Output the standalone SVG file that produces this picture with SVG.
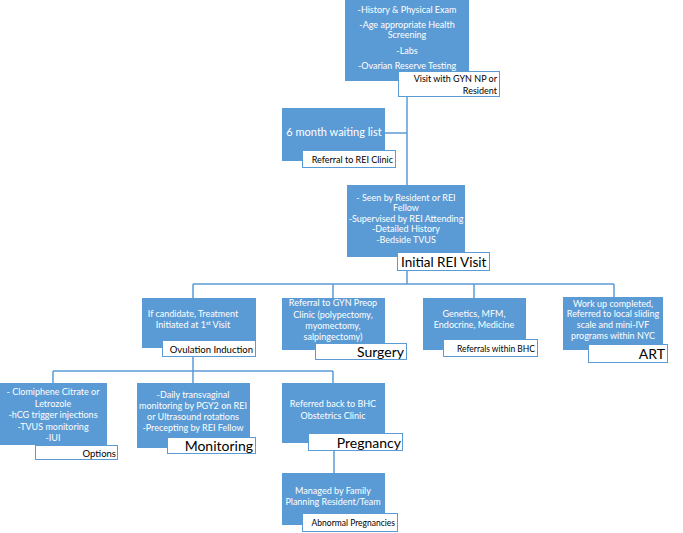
<svg xmlns="http://www.w3.org/2000/svg" width="683" height="533" viewBox="0 0 683 533">
<style>
.b{fill:#5b9bd5;}
.l{fill:#ffffff;stroke:#5b9bd5;stroke-width:1;}
.c{fill:none;stroke:#5b9bd5;stroke-width:1.5;}
.t{font-family:Lato,"Open Sans",sans-serif;font-size:9px;fill:#ffffff;text-anchor:middle;}
.k{font-family:Lato,"Open Sans",sans-serif;font-size:9px;fill:#000000;text-anchor:end;}
.big{font-family:Lato,"Open Sans",sans-serif;font-size:14px;fill:#000000;text-anchor:end;}
</style>
<rect width="683" height="533" fill="#ffffff"/>
<g id="connectors">
<path class="c" d="M407,97 V185 M385,133 H407"/>
<path class="c" d="M407,271 V284 M193,284 H614 M193,284 V298 M333,284 V298 M474,284 V298 M614,284 V297"/>
<path class="c" d="M193,356 V371 M53,371 H333 M53,371 V383 M193,371 V383 M333,371 V383"/>
<path class="c" d="M334,450 V473"/>
</g>
<g id="visit-gyn">
<rect class="b" x="345" y="0" width="124" height="81"/>
<text class="t" x="407" y="12.5">-History &amp; Physical Exam</text>
<text class="t" x="407" y="27.5">-Age appropriate Health</text>
<text class="t" x="407" y="37.5">Screening</text>
<text class="t" x="407" y="53.5">-Labs</text>
<text class="t" x="407" y="68.5">-Ovarian Reserve Testing</text>
<rect class="l" x="398.5" y="71.5" width="101" height="25"/>
<text class="k" x="497" y="82">Visit with GYN NP or</text>
<text class="k" x="497" y="94">Resident</text>
</g>
<g id="referral-rei">
<rect class="b" x="282" y="108" width="103" height="53"/>
<text class="t" x="334" y="135.5" style="font-size:11px">6 month waiting list</text>
<rect class="l" x="302.5" y="150.5" width="93" height="17"/>
<text class="k" x="393" y="162.5">Referral to REI Clinic</text>
</g>
<g id="initial-rei">
<rect class="b" x="347" y="185" width="118" height="72"/>
<text class="t" x="406" y="201">- Seen by Resident or REI</text>
<text class="t" x="406" y="211">Fellow</text>
<text class="t" x="406" y="222">-Supervised by REI Attending</text>
<text class="t" x="406" y="232">-Detailed History</text>
<text class="t" x="406" y="243">-Bedside TVUS</text>
<rect class="l" x="397.5" y="252.5" width="92" height="18"/>
<text class="big" x="401" y="266.5" style="font-size:13.5px;text-anchor:start">Initial REI Visit</text>
</g>
<g id="ovulation">
<rect class="b" x="142" y="298" width="114" height="50"/>
<text class="t" x="193" y="317">If candidate, Treatment</text>
<text class="t" x="193" y="328">Initiated at 1<tspan dy="-3" style="font-size:6px">st</tspan><tspan dy="3"> Visit</tspan></text>
<rect class="l" x="162.5" y="340.5" width="93" height="16"/>
<text class="k" x="253" y="352.5" style="font-size:9.5px">Ovulation Induction</text>
</g>
<g id="surgery">
<rect class="b" x="282" y="298" width="103" height="52"/>
<text class="t" x="333" y="306">Referral to GYN Preop</text>
<text class="t" x="333" y="318">Clinic (polypectomy,</text>
<text class="t" x="333" y="329">myomectomy,</text>
<text class="t" x="333" y="340">salpingectomy)</text>
<rect class="l" x="315.5" y="343.5" width="91" height="16"/>
<text class="big" x="404" y="357">Surgery</text>
</g>
<g id="referrals-bhc">
<rect class="b" x="423" y="298" width="103" height="52"/>
<text class="t" x="474" y="317">Genetics, MFM,</text>
<text class="t" x="474" y="328">Endocrine, Medicine</text>
<rect class="l" x="443.5" y="339.5" width="94" height="17"/>
<text class="k" x="535" y="351.5" style="font-size:8.5px">Referrals within BHC</text>
</g>
<g id="art">
<rect class="b" x="563" y="297" width="100" height="53"/>
<text class="t" x="613" y="307">Work up completed,</text>
<text class="t" x="613" y="317">Referred to local sliding</text>
<text class="t" x="613" y="328">scale and mini-IVF</text>
<text class="t" x="613" y="339">programs within NYC</text>
<rect class="l" x="588.5" y="344.5" width="79" height="18"/>
<text class="big" x="665" y="359">ART</text>
</g>
<g id="options">
<rect class="b" x="0" y="383" width="107" height="62"/>
<text class="t" x="53" y="395">- Clomiphene Citrate or</text>
<text class="t" x="53" y="407">Letrozole</text>
<text class="t" x="53" y="418">-hCG trigger injections</text>
<text class="t" x="53" y="430">-TVUS monitoring</text>
<text class="t" x="53" y="441">-IUI</text>
<rect class="l" x="35.5" y="445.5" width="82" height="14"/>
<text class="k" x="116" y="456.5" style="font-size:9.5px">Options</text>
</g>
<g id="monitoring">
<rect class="b" x="137" y="383" width="113" height="65"/>
<text class="t" x="193" y="398">-Daily transvaginal</text>
<text class="t" x="193" y="409">monitoring by PGY2 on REI</text>
<text class="t" x="193" y="420">or Ultrasound rotations</text>
<text class="t" x="193" y="431">-Precepting by REI Fellow</text>
<rect class="l" x="167.5" y="437.5" width="88" height="16"/>
<text class="big" x="253" y="451">Monitoring</text>
</g>
<g id="pregnancy">
<rect class="b" x="282" y="383" width="103" height="60"/>
<text class="t" x="333" y="407">Referred back to BHC</text>
<text class="t" x="333" y="419">Obstetrics Clinic</text>
<rect class="l" x="308.5" y="433.5" width="94" height="17"/>
<text class="big" x="401" y="447.5">Pregnancy</text>
</g>
<g id="abnormal">
<rect class="b" x="282" y="473" width="103" height="52"/>
<text class="t" x="333" y="494">Managed by Family</text>
<text class="t" x="333" y="505">Planning Resident/Team</text>
<rect class="l" x="302.5" y="513.5" width="95" height="18"/>
<text class="k" x="395" y="526" style="font-size:8.5px">Abnormal Pregnancies</text>
</g>
</svg>
